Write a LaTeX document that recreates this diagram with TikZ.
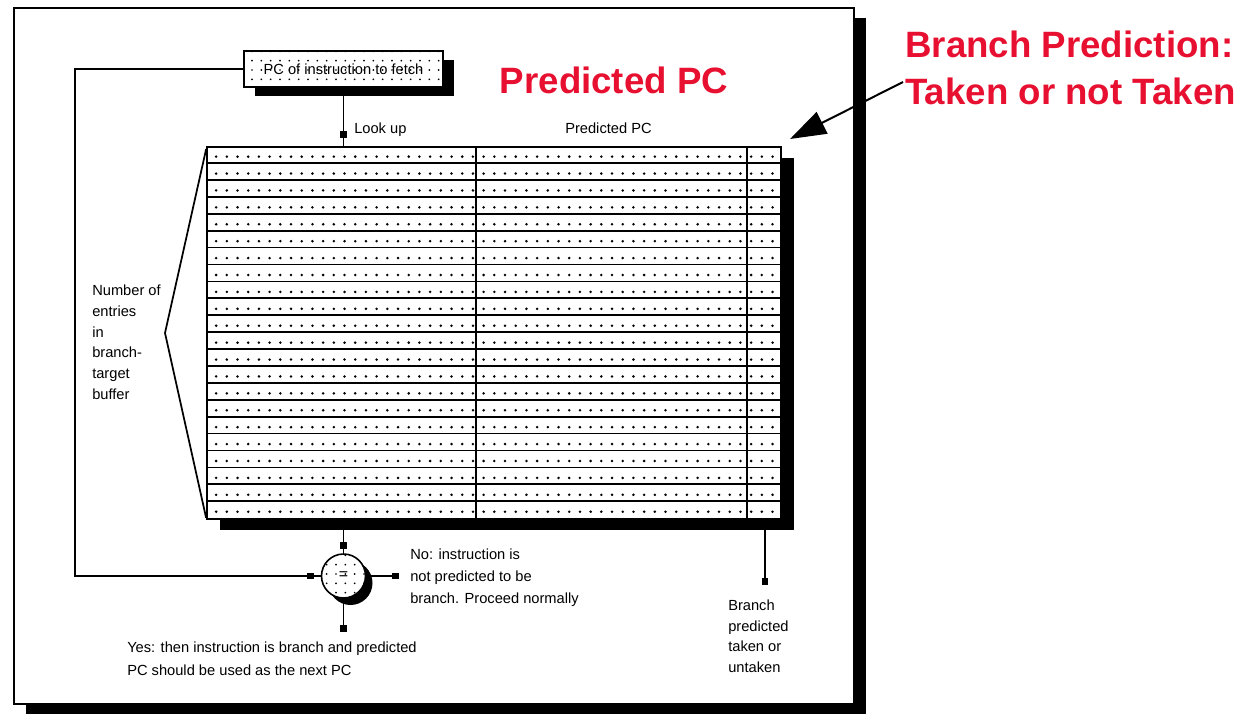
\documentclass[tikz,border=0pt]{standalone}
\usepackage{fontspec}
\setmainfont{Liberation Sans}
\usepackage{xcolor}
\usetikzlibrary{arrows.meta, positioning, calc, patterns.meta, decorations.markings}
\definecolor{BTBRed}{RGB}{232, 16, 48}

\tikzset{
  wire/.style={line width=1.3pt},
  hardshadow/.style={preaction={fill=black, transform canvas={shift={#1}}}},
  dotfill/.style={preaction={fill=white}, pattern={Dots[radius=0.7pt, distance=7pt]}},
  smalltext/.style={font=\fontsize{11}{#1}\selectfont, align=left, inner sep=0pt},
  redtitle/.style={font=\fontsize{27.5}{35}\selectfont\bfseries, text=BTBRed, inner sep=0pt},
  blobat/.style={postaction={decorate}, decoration={markings,
      mark=at position #1 with {\fill (-2.6pt,-2.6pt) rectangle (2.6pt,2.6pt);}}}
}

\begin{document}
\begin{tikzpicture}[x=0.75pt,y=-0.75pt]
  \path[use as bounding box] (0,0) rectangle (1258,714);
  \draw[line width=1.2pt, hardshadow={(9pt,-7.5pt)}, fill=white] (14,8) rectangle (854,704);

  % lookup box and buffer
  \node[hardshadow={(8.25pt,-6.75pt)}, draw, line width=1.2pt, dotfill,
        minimum width=149pt, minimum height=27pt, inner sep=0pt,
        font=\fontsize{11}{13}\selectfont] (pcbox) at (343.5,69) {PC of instruction to fetch};
  \node[hardshadow={(9.75pt,-8.25pt)}, draw, line width=1.3pt, fill=white,
        minimum width=430.5pt, minimum height=279pt, inner sep=0pt] (btb) at (494,333) {};
  \foreach \r in {1,...,21}
    \draw[line width=1.3pt] ($(btb.north west)+(0,\r*16.909)$) -- ($(btb.north east)+(0,\r*16.909)$);
  \draw[line width=1.2pt] ($(btb.north west)+(270,0)$) -- ($(btb.south west)+(270,0)$);
  \draw[line width=1.2pt] ($(btb.north west)+(541,0)$) -- ($(btb.south west)+(541,0)$);
  \foreach \r in {0,...,21}
    \foreach \c in {0,...,52}
      \fill ($(btb.north west)+(10+\c*10.7,10.5+\r*16.909)$) circle (1.05pt);

  % compare
  \node[hardshadow={(5.25pt,-5.25pt)}, circle, draw, line width=1.2pt, dotfill,
        minimum size=33pt, inner sep=0pt, font=\fontsize{12}{14}\selectfont] (cmp) at (343.5,576) {=};
  \coordinate (loopcorner) at (75,300);
  \coordinate (noend) at (399,576);
  \coordinate (yesend) at (343.5,632);
  \coordinate (takenend) at (765,585);
  \coordinate (btbtip) at (790,139);

  \draw[wire, blobat=-9pt] (pcbox.south) -- (pcbox.south |- btb.north);
  \draw[wire, blobat=-6pt] (pcbox.south |- btb.south) -- (cmp.north);
  \draw[wire, blobat=-8pt] (pcbox.west) -| (loopcorner) |- (cmp.west);
  \draw[wire, blobat=-2.6pt] (cmp.east) -- (noend);
  \draw[wire, blobat=-2.6pt] (cmp.south) -- (yesend);
  \draw[wire, blobat=-2.6pt] (btb.south -| takenend) -- (takenend);
  \draw[wire] ($(btb.north west)+(0,3)$) -- (165,333) -- ($(btb.south west)+(0,-2)$);

  % labels
  \node[smalltext=13, anchor=west] (lookuplbl) at (354,130) {Look up};
  \node[smalltext=13, anchor=west] (predlbl) at (565,128) {Predicted PC};
  \node[smalltext=15.5, anchor=north west] (numlbl) at (92,285) {Number of\\entries\\in\\branch-\\target\\buffer};
  \node[smalltext=16.5, anchor=north west] (nolbl) at (410,549) {No: instruction is\\not predicted to be\\branch. Proceed normally};
  \node[smalltext=17, anchor=north west] (yeslbl) at (127,642) {Yes: then instruction is branch and predicted\\PC should be used as the next PC};
  \node[smalltext=15.4, anchor=north west] (takenlbl) at (728,600) {Branch\\predicted\\taken or\\untaken};

  \node[redtitle] (predtitle) at (614,80) {Predicted PC};
  \node[redtitle, anchor=west, align=left] (brtitle) at (905,68) {Branch Prediction:\\Taken or not Taken};
  \draw[line width=1.5pt, -{Triangle[length=27pt,width=18pt]}] ($(brtitle.west)+(-2,14)$) -- (btbtip);
\end{tikzpicture}
\end{document}
